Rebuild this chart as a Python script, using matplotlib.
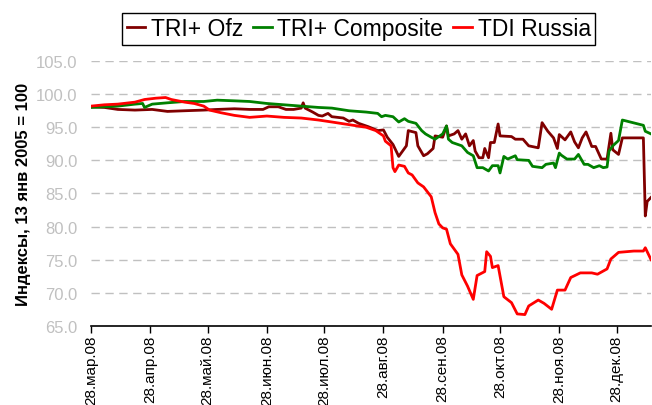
import matplotlib
matplotlib.use('Agg')
import matplotlib.pyplot as plt
import pandas as pd

plt.rcParams['font.family'] = ['Liberation Sans', 'DejaVu Sans']

# TRI+ Ofz
ofz_dates = ['2008-03-28', '2008-04-04', '2008-04-11', '2008-04-20', '2008-04-29', '2008-05-07',
             '2008-05-16', '2008-05-26', '2008-06-02', '2008-06-11', '2008-06-19', '2008-06-26',
             '2008-06-29', '2008-07-04', '2008-07-08', '2008-07-12', '2008-07-16', '2008-07-17',
             '2008-07-18', '2008-07-22', '2008-07-25', '2008-07-27', '2008-07-30', '2008-08-01',
             '2008-08-07', '2008-08-10', '2008-08-12', '2008-08-15', '2008-08-20', '2008-08-25',
             '2008-08-28', '2008-08-30', '2008-09-02', '2008-09-05', '2008-09-07', '2008-09-09',
             '2008-09-10', '2008-09-14', '2008-09-15', '2008-09-18', '2008-09-20', '2008-09-23',
             '2008-09-24', '2008-09-28', '2008-09-30', '2008-10-01', '2008-10-04', '2008-10-06',
             '2008-10-08', '2008-10-10', '2008-10-12', '2008-10-14', '2008-10-15', '2008-10-17',
             '2008-10-19', '2008-10-20', '2008-10-22', '2008-10-23', '2008-10-25', '2008-10-27',
             '2008-10-28', '2008-11-03', '2008-11-05', '2008-11-09', '2008-11-12', '2008-11-17',
             '2008-11-19', '2008-11-22', '2008-11-25', '2008-11-27', '2008-11-28', '2008-12-01',
             '2008-12-04', '2008-12-06', '2008-12-08', '2008-12-10', '2008-12-12', '2008-12-15',
             '2008-12-17', '2008-12-20', '2008-12-23', '2008-12-25', '2008-12-26', '2008-12-29',
             '2008-12-31', '2009-01-11', '2009-01-12', '2009-01-13', '2009-01-15']
ofz_vals = [98.1, 98.0, 97.7, 97.6, 97.7, 97.4,
            97.5, 97.6, 97.7, 97.8, 97.7, 97.7,
            98.1, 98.1, 97.7, 97.7, 97.9, 98.7,
            97.9, 97.3, 96.8, 96.7, 97.1, 96.6,
            96.4, 95.9, 96.1, 95.6, 95.1, 94.5,
            94.6, 93.5, 92.4, 90.6, 91.4, 92.2,
            94.5, 94.2, 92.2, 90.7, 91.0, 91.8,
            93.7, 93.5, 95.2, 93.7, 94.0, 94.5,
            93.2, 94.0, 92.2, 93.0, 91.4, 90.4,
            90.4, 91.8, 90.4, 92.7, 92.7, 95.5,
            93.7, 93.6, 93.2, 93.2, 92.2, 91.9,
            95.7, 94.4, 93.4, 91.8, 93.9, 93.1,
            94.3, 92.8, 91.9, 93.4, 94.3, 92.1,
            92.1, 90.2, 90.2, 94.1, 91.6, 90.9,
            93.4, 93.4, 81.6, 83.8, 84.4]

# TRI+ Composite
comp_dates = ['2008-03-28', '2008-04-11', '2008-04-20', '2008-04-24', '2008-04-25', '2008-04-29',
              '2008-05-07', '2008-05-16', '2008-05-26', '2008-06-02', '2008-06-11', '2008-06-19',
              '2008-06-28', '2008-07-07', '2008-07-16', '2008-07-25', '2008-08-01', '2008-08-10',
              '2008-08-19', '2008-08-25', '2008-08-27', '2008-08-29', '2008-09-02', '2008-09-05',
              '2008-09-08', '2008-09-10', '2008-09-14', '2008-09-17', '2008-09-19', '2008-09-22',
              '2008-09-24', '2008-09-28', '2008-09-30', '2008-10-01', '2008-10-03', '2008-10-08',
              '2008-10-11', '2008-10-14', '2008-10-16', '2008-10-19', '2008-10-22', '2008-10-24',
              '2008-10-27', '2008-10-28', '2008-10-30', '2008-11-01', '2008-11-05', '2008-11-06',
              '2008-11-12', '2008-11-14', '2008-11-19', '2008-11-21', '2008-11-25', '2008-11-26',
              '2008-11-28', '2008-11-29', '2008-12-02', '2008-12-06', '2008-12-08', '2008-12-11',
              '2008-12-13', '2008-12-16', '2008-12-19', '2008-12-21', '2008-12-23', '2008-12-24',
              '2008-12-26', '2008-12-29', '2008-12-31', '2009-01-11', '2009-01-12', '2009-01-15']
comp_vals = [98.0, 98.2, 98.5, 98.6, 98.0, 98.5,
             98.7, 98.9, 98.9, 99.1, 99.0, 98.9,
             98.6, 98.4, 98.2, 98.0, 97.9, 97.5,
             97.3, 97.1, 96.6, 96.8, 96.6, 95.8,
             96.3, 95.9, 95.6, 94.5, 94.0, 93.5,
             93.2, 94.0, 95.2, 93.2, 92.7, 92.2,
             91.2, 90.7, 88.9, 88.9, 88.4, 89.2,
             89.2, 88.1, 90.6, 90.2, 90.7, 90.1,
             90.0, 89.1, 88.9, 89.4, 89.6, 88.9,
             91.1, 90.8, 90.2, 90.2, 90.9, 89.4,
             89.4, 88.9, 89.2, 88.9, 89.0, 91.4,
             92.2, 93.0, 96.1, 95.3, 94.4, 94.0]

# TDI Russia
tdi_dates = ['2008-03-28', '2008-04-04', '2008-04-11', '2008-04-20', '2008-04-25', '2008-05-01',
             '2008-05-06', '2008-05-09', '2008-05-16', '2008-05-21', '2008-05-26', '2008-05-29',
             '2008-06-04', '2008-06-11', '2008-06-19', '2008-06-28', '2008-07-07', '2008-07-16',
             '2008-07-25', '2008-08-01', '2008-08-10', '2008-08-19', '2008-08-24', '2008-08-28',
             '2008-08-29', '2008-09-01', '2008-09-02', '2008-09-03', '2008-09-05', '2008-09-08',
             '2008-09-10', '2008-09-12', '2008-09-15', '2008-09-18', '2008-09-22', '2008-09-24',
             '2008-09-26', '2008-09-28', '2008-09-30', '2008-10-02', '2008-10-06', '2008-10-08',
             '2008-10-11', '2008-10-14', '2008-10-16', '2008-10-20', '2008-10-21', '2008-10-23',
             '2008-10-24', '2008-10-27', '2008-10-30', '2008-11-03', '2008-11-06', '2008-11-10',
             '2008-11-12', '2008-11-17', '2008-11-20', '2008-11-24', '2008-11-27', '2008-12-01',
             '2008-12-04', '2008-12-09', '2008-12-15', '2008-12-18', '2008-12-23', '2008-12-25',
             '2008-12-29', '2009-01-06', '2009-01-11', '2009-01-12', '2009-01-15']
tdi_vals = [98.2, 98.4, 98.5, 98.8, 99.2, 99.4,
            99.5, 99.2, 98.8, 98.6, 98.2, 97.6,
            97.2, 96.8, 96.5, 96.7, 96.5, 96.4,
            96.1, 95.8, 95.4, 95.0, 94.5, 93.7,
            92.9, 92.2, 88.9, 88.3, 89.3, 89.1,
            88.1, 87.8, 86.6, 86.0, 84.5, 82.1,
            80.4, 79.8, 79.6, 77.4, 75.8, 72.7,
            71.0, 69.0, 72.6, 73.2, 76.2, 75.5,
            73.8, 74.1, 69.4, 68.5, 66.8, 66.7,
            68.0, 68.9, 68.4, 67.5, 70.4, 70.4,
            72.3, 73.0, 73.0, 72.8, 73.6, 75.1,
            76.1, 76.3, 76.3, 76.8, 75.0]

series = [('TRI+ Ofz', ofz_dates, ofz_vals, '#800000'),
          ('TRI+ Composite', comp_dates, comp_vals, '#008000'),
          ('TDI Russia', tdi_dates, tdi_vals, '#ff0000')]

months_ru = ['янв', 'фев', 'мар', 'апр', 'май', 'июн', 'июл', 'авг', 'сен', 'окт', 'ноя', 'дек']
tick_dates = pd.date_range('2008-03-01', '2008-12-01', freq='MS') + pd.Timedelta(days=27)

fig = plt.figure(figsize=(6.52, 4.06), dpi=100)
ax = fig.add_axes([0.1396, 0.195, 0.8589, 0.652])

for name, d, v, c in series:
    ax.plot(pd.to_datetime(d), v, color=c, lw=2.0, label=name)

ax.set_ylim(65, 105)
ax.set_yticks(range(65, 106, 5))
ax.set_yticklabels(['%.1f' % t for t in range(65, 106, 5)], color='#c0c0c0', fontsize=12)
ax.tick_params(axis='y', length=0, pad=10)
ax.yaxis.grid(True, color='#c0c0c0', ls=(0, (6, 4)), lw=1)
ax.set_axisbelow(True)

ax.set_xlim(pd.Timestamp(ofz_dates[0]), pd.Timestamp(ofz_dates[-1]))
ax.set_xticks(tick_dates)
ax.set_xticklabels(['%02d.%s.%s' % (t.day, months_ru[t.month - 1], t.strftime('%y')) for t in tick_dates],
                   rotation=90, fontsize=11)
ax.tick_params(axis='x', length=5, width=1, direction='out', pad=1)

for s in ['left', 'right', 'top']:
    ax.spines[s].set_visible(False)
ax.spines['bottom'].set_linewidth(1.2)

ax.set_ylabel('Индексы, 13 янв 2005 = 100', fontsize=12, fontweight='bold', labelpad=3)

leg = ax.legend(loc='center', bbox_to_anchor=(0.55, 0.927), bbox_transform=fig.transFigure,
                ncol=3, fontsize=16.5, handlelength=0.8, handletextpad=0.25, columnspacing=0.45,
                borderpad=0.2, fancybox=False, framealpha=1)
leg.get_frame().set_edgecolor('black')
leg.get_frame().set_linewidth(1)

fig.savefig('out.png', dpi=100)
